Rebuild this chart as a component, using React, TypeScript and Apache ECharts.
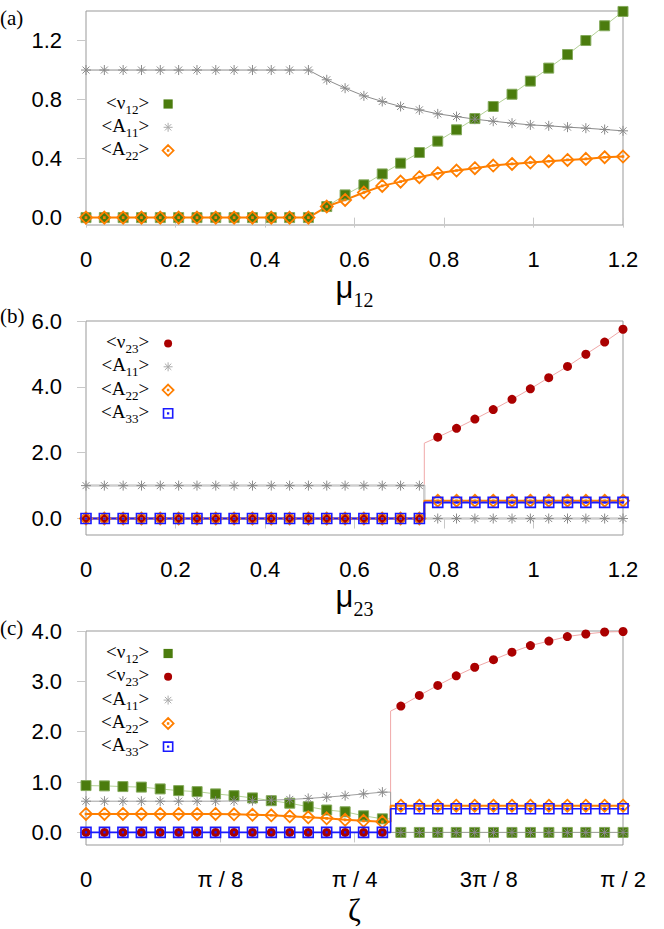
import React, { useEffect, useRef } from 'react';
import * as echarts from 'echarts';

// ---------- data ----------
const MU = [0, 0.041, 0.083, 0.124, 0.166, 0.207, 0.248, 0.29, 0.331, 0.372, 0.414, 0.455, 0.497, 0.538, 0.579, 0.621, 0.662, 0.703, 0.745, 0.786, 0.828, 0.869, 0.91, 0.952, 0.993, 1.034, 1.076, 1.117, 1.159, 1.2];
const ZETA = [0, 0.054, 0.108, 0.162, 0.217, 0.271, 0.325, 0.379, 0.433, 0.487, 0.542, 0.596, 0.65, 0.704, 0.758, 0.812, 0.867, 0.921, 0.975, 1.029, 1.083, 1.137, 1.192, 1.246, 1.3, 1.354, 1.408, 1.462, 1.517, 1.571];

// panel (a)
const A_V12 = [0, 0, 0, 0, 0, 0, 0, 0, 0, 0, 0, 0, 0, 0.075, 0.154, 0.222, 0.296, 0.369, 0.441, 0.518, 0.595, 0.671, 0.753, 0.836, 0.925, 1.013, 1.105, 1.2, 1.3, 1.397];
const A_A11 = [1, 1, 1, 1, 1, 1, 1, 1, 1, 1, 1, 1, 1, 0.934, 0.877, 0.825, 0.787, 0.753, 0.73, 0.703, 0.685, 0.667, 0.653, 0.64, 0.628, 0.622, 0.613, 0.606, 0.597, 0.588];
const A_A22 = [0, 0, 0, 0, 0, 0, 0, 0, 0, 0, 0, 0, 0, 0.075, 0.12, 0.17, 0.215, 0.244, 0.274, 0.301, 0.319, 0.335, 0.353, 0.364, 0.373, 0.382, 0.391, 0.398, 0.409, 0.414];

// panel (b)
const B_V23 = [0, 0, 0, 0, 0, 0, 0, 0, 0, 0, 0, 0, 0, 0, 0, 0, 0, 0, 0, 2.47, 2.74, 3.02, 3.31, 3.62, 3.94, 4.28, 4.62, 4.99, 5.36, 5.75];
const B_A11 = [1, 1, 1, 1, 1, 1, 1, 1, 1, 1, 1, 1, 1, 1, 1, 1, 1, 1, 1, 0, 0, 0, 0, 0, 0, 0, 0, 0, 0, 0];
const B_A22 = [0, 0, 0, 0, 0, 0, 0, 0, 0, 0, 0, 0, 0, 0, 0, 0, 0, 0, 0, 0.54, 0.54, 0.54, 0.54, 0.54, 0.54, 0.54, 0.54, 0.54, 0.54, 0.54];
const B_A33 = [0, 0, 0, 0, 0, 0, 0, 0, 0, 0, 0, 0, 0, 0, 0, 0, 0, 0, 0, 0.49, 0.49, 0.49, 0.49, 0.49, 0.49, 0.49, 0.49, 0.49, 0.49, 0.49];
const B_JUMP = 0.756;
const B_JUMP_TOP = { v23: 2.29, a11: 0, a22: 0.54, a33: 0.49 };

// panel (c)
const C_V12 = [0.93, 0.924, 0.91, 0.9, 0.864, 0.83, 0.81, 0.765, 0.73, 0.685, 0.63, 0.58, 0.51, 0.445, 0.41, 0.33, 0.27, 0, 0, 0, 0, 0, 0, 0, 0, 0, 0, 0, 0, 0];
const C_V23 = [0, 0, 0, 0, 0, 0, 0, 0, 0, 0, 0, 0, 0, 0, 0, 0, 0, 2.51, 2.72, 2.92, 3.11, 3.28, 3.43, 3.58, 3.71, 3.8, 3.89, 3.94, 3.98, 3.99];
const C_A11 = [0.62, 0.62, 0.62, 0.62, 0.62, 0.62, 0.62, 0.62, 0.625, 0.63, 0.64, 0.655, 0.675, 0.7, 0.73, 0.765, 0.8, 0, 0, 0, 0, 0, 0, 0, 0, 0, 0, 0, 0, 0];
const C_A22 = [0.366, 0.366, 0.366, 0.366, 0.366, 0.366, 0.366, 0.366, 0.36, 0.35, 0.34, 0.32, 0.3, 0.28, 0.25, 0.23, 0.21, 0.53, 0.53, 0.53, 0.53, 0.53, 0.53, 0.53, 0.53, 0.53, 0.53, 0.53, 0.53, 0.53];
const C_A33 = [0, 0, 0, 0, 0, 0, 0, 0, 0, 0, 0, 0, 0, 0, 0, 0, 0, 0.47, 0.47, 0.47, 0.47, 0.47, 0.47, 0.47, 0.47, 0.47, 0.47, 0.47, 0.47, 0.47];
const C_JUMP = 0.891;
const C_JUMP_TOP = { v12: 0, v23: 2.41, a11: 0, a22: 0.53, a33: 0.47 };

// ticks
const MU_TICKS = [0, 0.2, 0.4, 0.6, 0.8, 1.0, 1.2];
const MU_TICK_LABELS = ['0', '0.2', '0.4', '0.6', '0.8', '1', '1.2'];
const ZETA_TICKS = [0, Math.PI / 8, Math.PI / 4, (3 * Math.PI) / 8, Math.PI / 2];
const ZETA_TICK_LABELS = ['0', 'π / 8', 'π / 4', '3π / 8', 'π / 2'];
const Y_TICKS_A = [0, 0.4, 0.8, 1.2];
const Y_TICKS_B = [0, 2, 4, 6];
const Y_TICKS_C = [0, 1, 2, 3, 4];

// ---------- styles ----------
const GREEN = '#4b7c0e';
const GREEN_LINE = '#b3d196';
const RED = '#aa0000';
const RED_LINE = '#f0a8a8';
const ORANGE = '#ff7f00';
const BLUE = '#1a1aff';
const GRAY = '#8a8a8a';

const SYM = {
  asterisk: 'path://M-5,0H5M0,-5V5M-3.5,-3.5L3.5,3.5M-3.5,3.5L3.5,-3.5',
  diamondDot: 'path://M0,-5L5,0L0,5L-5,0ZM-0.35,-0.35H0.35V0.35H-0.35Z',
  squareDot: 'path://M-5,-5H5V5H-5ZM-0.35,-0.35H0.35V0.35H-0.35Z',
};
const LEG = {
  v12: 'path://M-6,-6M6,6M-4.6,-4.6H4.6V4.6H-4.6Z',
  v23: 'path://M-6,-6M6,6M-4,0A4,4,0,1,1,4,0A4,4,0,1,1,-4,0Z',
  a11: 'path://M-6,-6M6,6M-4.5,0H4.5M0,-4.5V4.5M-3.2,-3.2L3.2,3.2M-3.2,3.2L3.2,-3.2',
  a22: 'path://M-6,-6M6,6M0,-5.5L5.5,0L0,5.5L-5.5,0ZM-0.35,-0.35H0.35V0.35H-0.35Z',
  a33: 'path://M-6,-6M6,6M-4.6,-4.6H4.6V4.6H-4.6ZM-0.35,-0.35H0.35V0.35H-0.35Z',
};

type Kind = 'v12' | 'v23' | 'a11' | 'a22' | 'a33';
const KIND_STYLE: Record<Kind, any> = {
  v12: { symbol: 'rect', size: 10, item: { color: GREEN, borderColor: '#84aa5c', borderWidth: 1 }, line: { color: GREEN_LINE, width: 1 } },
  v23: { symbol: 'circle', size: 9, item: { color: RED, borderWidth: 0 }, line: { color: RED_LINE, width: 1 } },
  a11: { symbol: SYM.asterisk, size: 10, item: { color: 'transparent', borderColor: GRAY, borderWidth: 1 }, line: { color: '#9a9a9a', width: 1 } },
  a22: { symbol: SYM.diamondDot, size: 12, item: { color: 'transparent', borderColor: ORANGE, borderWidth: 1.8 }, line: { color: ORANGE, width: 2 } },
  a33: { symbol: SYM.squareDot, size: 10, item: { color: 'transparent', borderColor: BLUE, borderWidth: 1.6 }, line: { color: BLUE, width: 2 } },
};
const LEG_STYLE: Record<Kind, any> = {
  v12: { color: GREEN, borderWidth: 0 },
  v23: { color: RED, borderWidth: 0 },
  a11: { color: 'transparent', borderColor: '#aaaaaa', borderWidth: 1 },
  a22: { color: 'transparent', borderColor: ORANGE, borderWidth: 1.8 },
  a33: { color: 'transparent', borderColor: BLUE, borderWidth: 1.6 },
};
const LEG_TEXT: Record<Kind, [string, string]> = {
  v12: ['<ν', '12'],
  v23: ['<ν', '23'],
  a11: ['<A', '11'],
  a22: ['<A', '22'],
  a33: ['<A', '33'],
};

function buildData(xs: number[], ys: number[], jump?: number, top?: number) {
  const out: any[] = [];
  for (let i = 0; i < xs.length; i++) {
    out.push([xs[i], ys[i]]);
    if (jump !== undefined && i + 1 < xs.length && xs[i] < jump && xs[i + 1] > jump) {
      out.push({ value: [jump, ys[i]], symbol: 'none' });
      out.push({ value: [jump, top], symbol: 'none' });
    }
  }
  return out;
}

function makeSeries(panel: number, kind: Kind, xs: number[], ys: number[], jump?: number, top?: number, lineOverride?: any) {
  const st = KIND_STYLE[kind];
  return {
    type: 'line',
    name: `${panel}-${kind}`,
    xAxisIndex: panel,
    yAxisIndex: panel,
    data: buildData(xs, ys, jump, top),
    symbol: st.symbol,
    symbolSize: st.size,
    showSymbol: true,
    itemStyle: st.item,
    lineStyle: { ...st.line, ...(lineOverride || {}) },
    emphasis: { disabled: true },
    silent: true,
    clip: false,
  };
}

const GRID_TOPS = [11, 321, 631];
const GRID_H = 214;
const LEGEND_TOPS = [92.5, 332, 642];
const PANEL_LABELS = ['(a)', '(b)', '(c)'];
const PANEL_LABEL_Y = [18, 316, 628];

export default function App() {
  const ref = useRef<HTMLDivElement>(null);
  useEffect(() => {
    if (!ref.current) return;
    const chart = echarts.init(ref.current, null, { renderer: 'svg' });

    const tickLabelStyle = { fontFamily: 'Liberation Sans', fontSize: 22, color: '#000' };

    const grids = GRID_TOPS.map((t) => ({
      left: 86,
      right: 41,
      top: t,
      height: GRID_H,
      show: true,
      borderColor: '#999',
      borderWidth: 1,
      backgroundColor: 'transparent',
      containLabel: false,
      outerBoundsMode: 'none',
    }));

    const nameRich = {
      m: { fontSize: 31, fontFamily: 'Liberation Sans', color: '#000', verticalAlign: 'top' },
      s: { fontSize: 20, fontFamily: 'Liberation Serif', color: '#000', verticalAlign: 'top', padding: [18, 0, 0, 0] },
      z: { fontSize: 31, fontFamily: 'Liberation Serif', color: '#000', verticalAlign: 'top' },
    };

    const xAxisBase = (idx: number, min: number, max: number, ticks: number[], labels: string[], name: string, gap: number) => ({
      type: 'value',
      gridIndex: idx,
      min,
      max,
      axisLine: { show: false },
      axisTick: { show: true, length: 10, customValues: ticks, lineStyle: { color: '#c8c8c8', width: 1 } },
      axisLabel: {
        ...tickLabelStyle,
        margin: 23,
        customValues: ticks,
        formatter: (v: number) => {
          let best = 0;
          for (let i = 0; i < ticks.length; i++) if (Math.abs(ticks[i] - v) < Math.abs(ticks[best] - v)) best = i;
          return labels[best];
        },
      },
      splitLine: { show: false },
      name,
      nameLocation: 'middle',
      nameGap: gap,
      nameTextStyle: { rich: nameRich },
    });

    const yAxisBase = (idx: number, min: number, max: number, ticks: number[]) => ({
      type: 'value',
      gridIndex: idx,
      min,
      max,
      axisLine: { show: false },
      axisTick: { show: true, length: 9, customValues: ticks, lineStyle: { color: '#c8c8c8', width: 1 } },
      axisLabel: { ...tickLabelStyle, margin: 24, customValues: ticks, formatter: (v: number) => v.toFixed(1) },
      splitLine: { show: false },
    });

    const series: any[] = [
      makeSeries(0, 'v12', MU, A_V12),
      makeSeries(0, 'a11', MU, A_A11, undefined, undefined, { color: '#8c8c8c', width: 1 }),
      makeSeries(0, 'a22', MU, A_A22),

      makeSeries(1, 'v23', MU, B_V23, B_JUMP, B_JUMP_TOP.v23),
      makeSeries(1, 'a11', MU, B_A11, B_JUMP, B_JUMP_TOP.a11, { color: '#cfcfcf', width: 2.5 }),
      makeSeries(1, 'a22', MU, B_A22, B_JUMP, B_JUMP_TOP.a22),
      makeSeries(1, 'a33', MU, B_A33, B_JUMP, B_JUMP_TOP.a33),

      makeSeries(2, 'v12', ZETA, C_V12, C_JUMP, C_JUMP_TOP.v12),
      makeSeries(2, 'v23', ZETA, C_V23, C_JUMP, C_JUMP_TOP.v23),
      makeSeries(2, 'a11', ZETA, C_A11, C_JUMP, C_JUMP_TOP.a11, { color: '#a0a0a0', width: 1 }),
      makeSeries(2, 'a22', ZETA, C_A22, C_JUMP, C_JUMP_TOP.a22),
      makeSeries(2, 'a33', ZETA, C_A33, C_JUMP, C_JUMP_TOP.a33, { width: 1.6 }),
    ];

    const panelKinds: Kind[][] = [
      ['v12', 'a11', 'a22'],
      ['v23', 'a11', 'a22', 'a33'],
      ['v12', 'v23', 'a11', 'a22', 'a33'],
    ];

    const legends = panelKinds.map((kinds, p) => ({
      orient: 'vertical',
      align: 'right',
      right: 489,
      top: LEGEND_TOPS[p],
      padding: 0,
      itemGap: 0.3,
      itemWidth: 12,
      itemHeight: 12,
      selectedMode: false,
      data: kinds.map((k) => ({ name: `${p}-${k}`, icon: LEG[k], itemStyle: LEG_STYLE[k] })),
      formatter: (name: string) => {
        const k = name.split('-')[1] as Kind;
        const [pre, sub] = LEG_TEXT[k];
        return `{t|${pre}}{s|${sub}}{t|>}{g| }`;
      },
      textStyle: {
        color: '#000',
        rich: {
          t: { fontSize: 19, fontFamily: 'Liberation Serif', color: '#000', verticalAlign: 'top', lineHeight: 20 },
          s: { fontSize: 13, fontFamily: 'Liberation Serif', color: '#000', verticalAlign: 'top', padding: [10, 0, 0, 0] },
          g: { fontSize: 13, width: 8 },
        },
      },
    }));

    const option: any = {
      animation: false,
      backgroundColor: '#fff',
      grid: grids,
      xAxis: [
        xAxisBase(0, 0, 1.2, MU_TICKS, MU_TICK_LABELS, '{m|μ}{s|12}', 47),
        xAxisBase(1, 0, 1.2, MU_TICKS, MU_TICK_LABELS, '{m|μ}{s|23}', 45),
        xAxisBase(2, 0, Math.PI / 2, ZETA_TICKS, ZETA_TICK_LABELS, '{z|ζ}', 50),
      ],
      yAxis: [
        yAxisBase(0, -0.05, 1.4, Y_TICKS_A),
        yAxisBase(1, -0.5, 6, Y_TICKS_B),
        yAxisBase(2, -0.25, 4, Y_TICKS_C),
      ],
      legend: legends,
      series,
      graphic: PANEL_LABELS.map((t, i) => ({
        type: 'text',
        x: 0,
        y: PANEL_LABEL_Y[i],
        style: { text: t, fontSize: 21, fontFamily: 'Liberation Serif', fill: '#000', verticalAlign: 'middle' },
      })),
    };

    chart.setOption(option);
    return () => chart.dispose();
  }, []);

  return (
    <div
      ref={ref}
      style={{ position: 'absolute', left: 0, top: 0, width: 664, height: 929, background: '#fff' }}
    />
  );
}
